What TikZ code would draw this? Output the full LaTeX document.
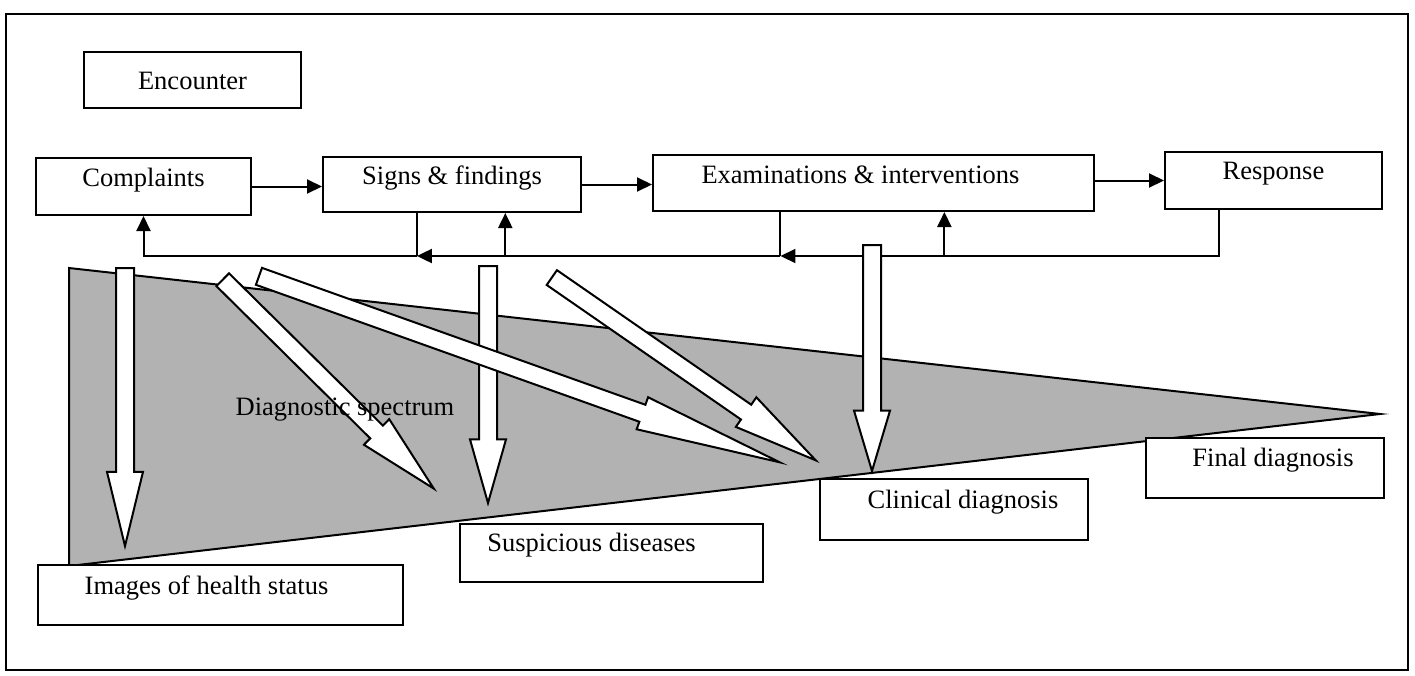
\documentclass[tikz,border=0pt]{standalone}
\usepackage{fontspec}
\setmainfont{Liberation Serif}
\usepackage{xcolor}
\usepackage{tikz}
\usetikzlibrary{arrows.meta,positioning,calc,shapes.arrows}

\begin{document}
\begin{tikzpicture}[
  x=1pt,y=-1pt,
  box/.style={draw=black, line width=2pt, fill=white, anchor=north west, align=center, inner xsep=0pt, inner ysep=0pt, font=\fontsize{26.5}{30}\selectfont},
  link/.style={line width=2pt, draw=black},
  arrow/.style={link, -{Triangle[length=15pt,width=14pt]}},
  hollow/.style={single arrow, draw=black, fill=white, line width=2pt, inner xsep=0pt, inner ysep=8pt, single arrow head extend=9pt, anchor=tail},
  spectrum/.style={draw=black, line width=2pt, fill=black!30, line join=miter}
]
\useasboundingbox (0,0) rectangle (1415,675);
\draw[line width=2pt] (6,14) rectangle (1408,670);
\node[box, minimum width=217pt, text height=37pt, text depth=19pt] (enc) at (83,51) {Encounter};
\node[box, minimum width=215pt, text height=28pt, text depth=29pt] (comp) at (35,157) {Complaints};
\node[box, minimum width=258pt, text height=27pt, text depth=28pt] (sign) at (322,156) {Signs \& findings};
\node[box, minimum width=441pt, text height=28pt, text depth=28pt] (exam) at (652,154) {Examinations \& interventions\hspace{26pt}};
\node[box, minimum width=217pt, text height=27pt, text depth=30pt] (resp) at (1164,151) {Response};
\draw[arrow] (comp) -- (comp -| sign.west);
\draw[arrow] (sign) -- (sign -| exam.west);
\draw[arrow] (exam.east |- resp) -- (resp);
\coordinate (fb) at (0,256);
\coordinate (r1) at ($(resp.south west)!.25!(resp.south east)$);
\coordinate (e1) at ($(exam.south west)!.29!(exam.south east)$);
\coordinate (e2) at ($(exam.south west)!.66!(exam.south east)$);
\coordinate (s1) at ($(sign.south west)!.365!(sign.south east)$);
\coordinate (s2) at ($(sign.south west)!.705!(sign.south east)$);
\draw[arrow] (r1) |- (e1 |- fb);
\draw[link] (e1) -- (e1 |- fb);
\draw[arrow] (e1 |- fb) -- (s1 |- fb);
\draw[link] (s1) -- (s1 |- fb);
\draw[arrow] (s1 |- fb) -| (comp.south);
\draw[arrow] (e2 |- fb) -- (e2);
\draw[arrow] (s2 |- fb) -- (s2);
\coordinate (apex) at (1380,414);
\draw[spectrum] (69,268) -- (apex) -- (69,566) -- cycle;
\node[hollow, minimum height=278pt, single arrow tip angle=27.3, rotate=-90] (toimg) at (125,267) {};
\node[hollow, minimum height=237pt, single arrow tip angle=31.6, rotate=-90] (tosus) at (488,265) {};
\node[hollow, minimum height=226pt, single arrow tip angle=33.2, rotate=-90] (tocli) at (872,244) {};
\node[hollow, minimum height=297pt, single arrow tip angle=25.2, rotate=-44.7] (diagA) at (222,279) {};
\node[hollow, minimum height=553pt, single arrow tip angle=13.3, single arrow head extend=8pt, rotate=-19.65] (diagB) at (258,276) {};
\node[hollow, minimum height=321pt, single arrow tip angle=24, rotate=-34.7] (diagC) at (551,277) {};
\node[font=\fontsize{26.5}{30}\selectfont, anchor=base] (spec) at (345,415) {Diagnostic spectrum};
\node[box, minimum width=365pt, text height=29pt, text depth=31pt] (img) at (37,564) {Images of health status\hspace{28pt}};
\node[box, minimum width=303pt, text height=27pt, text depth=31pt] (susp) at (459,523) {Suspicious diseases\hspace{40pt}};
\node[box, minimum width=268pt, text height=29pt, text depth=32pt] (clin) at (819,478) {\hspace{18pt}Clinical diagnosis};
\node[box, minimum width=238pt, text height=28pt, text depth=32pt] (final) at (1145,437) {\hspace{16pt}Final diagnosis};
\end{tikzpicture}
\end{document}
